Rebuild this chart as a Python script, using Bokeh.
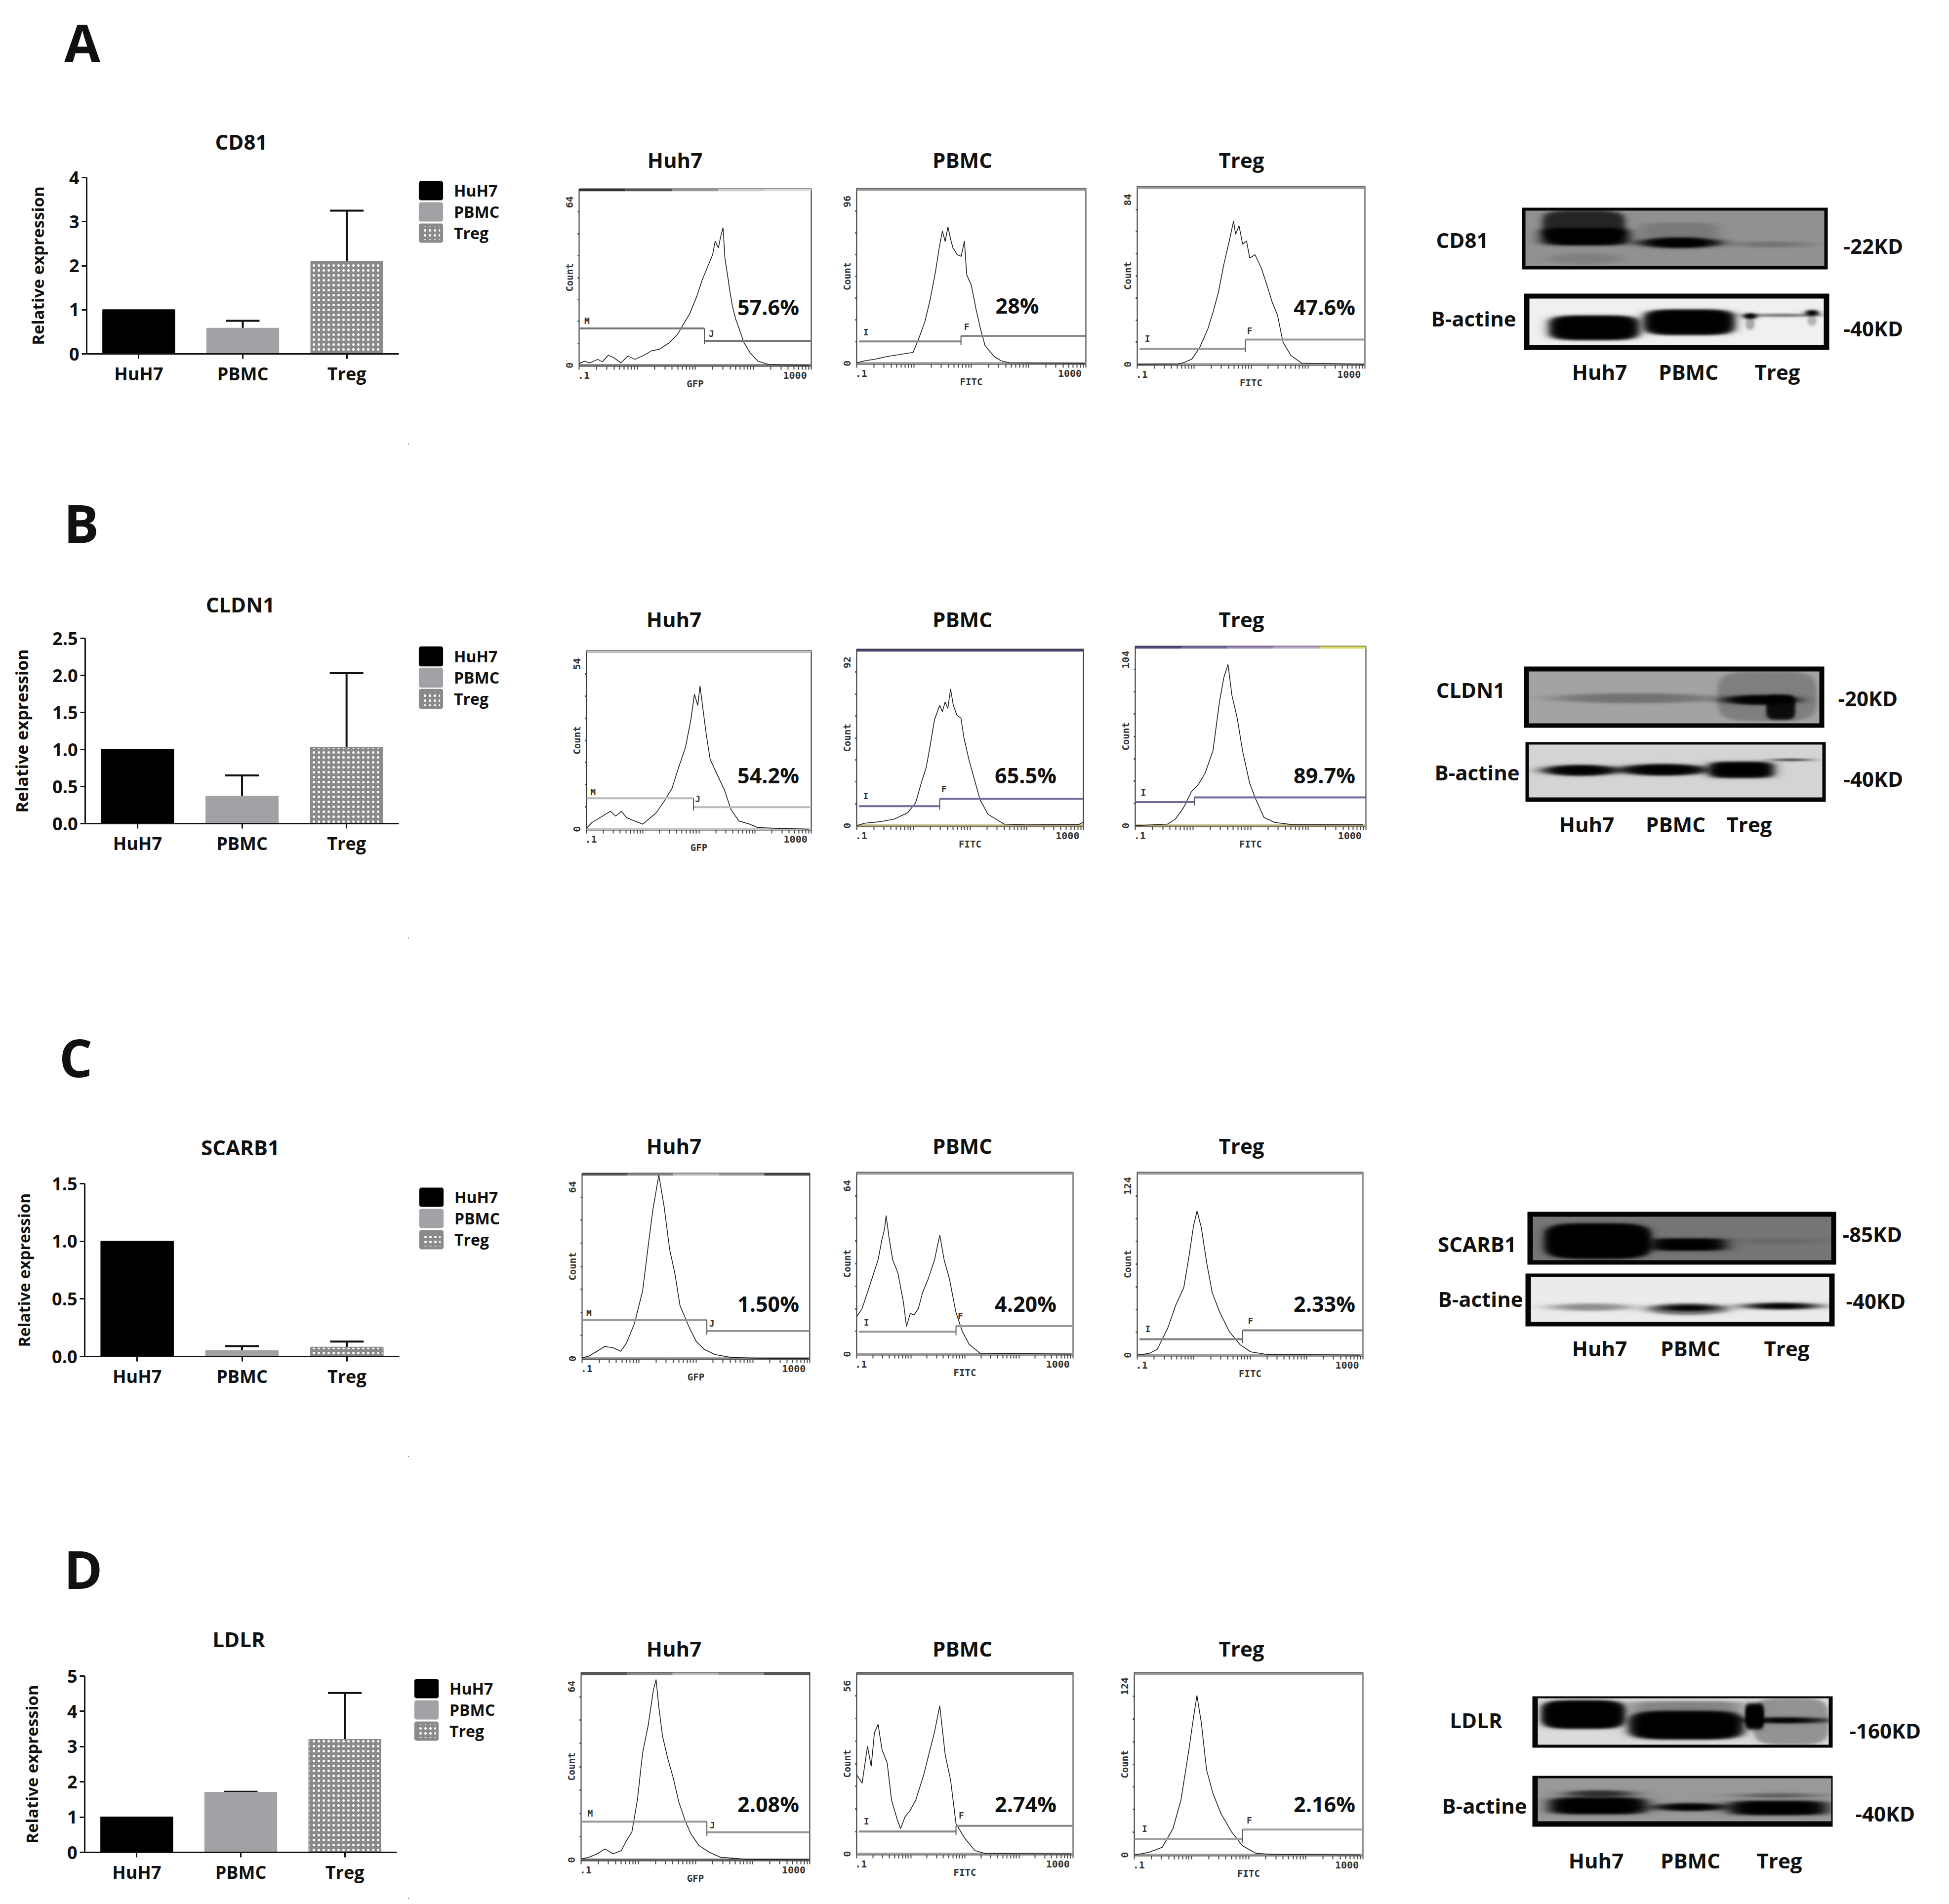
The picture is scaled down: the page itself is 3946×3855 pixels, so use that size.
import numpy as np
from bokeh.embed import file_html
from bokeh.resources import INLINE
from bokeh.layouts import row, column
from bokeh.plotting import figure
from bokeh.models import (FactorRange, Range1d, FixedTicker, Label, Legend, LegendItem, Whisker,
                          ColumnDataSource, TeeHead, LinearColorMapper, NumeralTickFormatter)
from bokeh.palettes import Greys256
from bokeh.core.properties import value

FONT = "Open Sans"
MONO = "DejaVu Sans Mono"

# ---------- bar charts ----------
CATEGORIES = ["HuH7", "PBMC", "Treg"]
CD81_MEAN = [1.0, 0.58, 2.1]
CD81_UPPER = [1.0, 0.75, 3.25]
CD81_TICKS = [0, 1, 2, 3, 4]
CLDN1_MEAN = [1.0, 0.37, 1.03]
CLDN1_UPPER = [1.0, 0.65, 2.03]
CLDN1_TICKS = [0, 0.5, 1.0, 1.5, 2.0, 2.5]
SCARB1_MEAN = [1.0, 0.05, 0.08]
SCARB1_UPPER = [1.0, 0.09, 0.13]
SCARB1_TICKS = [0, 0.5, 1.0, 1.5]
LDLR_MEAN = [1.0, 1.7, 3.2]
LDLR_UPPER = [1.0, 1.72, 4.52]
LDLR_TICKS = [0, 1, 2, 3, 4, 5]

# ---------- flow histograms: channel (% of log axis), events (% of full scale) ----------
A_HUH7_X = [0,2.3,4.6,8,10,12.6,15,18,21,24,28,31,34.5,39,42.5,45,47.6,50.6,53,55,57.5,58.6,60,61,62,62.8,63.7,65,66,67.4,69,71,73.6,77,81.6,87,99]
A_HUH7_Y = [1,2.4,1.4,3.4,2,5.8,4.3,1.4,5.3,3.4,5.8,8.2,9.1,13,17.8,23.6,29.3,39,48.6,55,63,70.7,66.9,73.6,78.4,61,53.4,41.8,34,26.5,20.7,13,7.2,2.4,.5,.3,0]
A_PBMC_X = [0,3.5,8,13,17.5,24.6,27,29.7,32,34.4,36,37.4,38.6,39.8,41,42,43.8,45.6,47,48,50,52,54,56,60,63,66.7,99.5]
A_PBMC_Y = [.3,1.5,2.4,3.9,4.8,6.3,14,23.7,36.3,52.8,66.4,76,70,78.5,71.2,66.4,62.5,61.5,70.3,50.9,45,31.5,19.9,10.2,3.9,1.5,.3,0]
A_TREG_X = [0,18,20.7,24,27.5,31,33.4,35.7,38,40.4,42.3,43.2,44.7,46.3,48,49.4,51.7,54.5,56.9,59.2,61.6,64,67.5,72.2,99.6]
A_TREG_Y = [0,.2,1.1,3,9.7,20,30,41,56.3,69.6,81,73.5,78.3,67.8,69.7,60,62,54.4,45,35.4,27.8,12.6,5,.7,0]
B_HUH7_X = [0,2.4,4.8,8.3,10.7,13,15.5,17.9,21.4,25,27.6,31,34.5,38,41,44,46.4,48,49.5,50.5,51.8,53.3,55,58.3,61.4,64.3,67.8,72.6,76.2,83.3,98.8]
B_HUH7_Y = [.5,3.7,5.5,8.3,10,7.3,10,6.4,4.6,2.8,5.5,9.2,15.6,22.9,34.8,45.9,61.4,76,69.7,80.7,67.8,53.2,39.4,30.3,22,11,4.6,2.8,.9,.5,0]
B_PBMC_X = [0,3.5,10.6,16.5,22.5,26,28.4,30.7,32.4,34.3,36.6,37.8,39,40.2,41.4,42.6,44.2,46,47.3,49.6,52,54.4,57.9,61.5,65,74.5,98,99.8]
B_PBMC_Y = [0,1.4,2.3,3.7,7.4,13,24,33.4,45.5,60.3,68.6,64.9,70.5,66.8,77.9,68.6,63,61.2,50,37.1,26,14.8,6.5,3.7,.9,.5,.7,1.9]
B_TREG_X = [0,14,17.4,20.9,24.4,27.2,30.2,33.7,36.5,38.4,40.2,41.9,44.2,46.5,49.6,52.3,55.8,60.5,68.6,98.8]
B_TREG_Y = [0,.9,3.7,10,19.2,22.8,29.2,42,69.4,83,90.4,73,60.3,42,23.7,14.6,4.6,1.8,.5,.5]
C_HUH7_X = [0,3,6.6,10,13.7,17,19.5,23,26.6,29,31,33.7,36,38.5,40.7,43,46.9,50.1,53.7,58.4,65.4,77,99.5]
C_HUH7_Y = [.4,1.3,4,6.6,5.8,4,8.4,19,36.8,60.7,80,99.6,82.7,58.9,46.5,28.8,17.3,9.3,4.9,2.2,.6,.2,0]
C_PBMC_X = [0,2.5,5,7.4,9.9,11.6,12.9,13.6,14.9,16.6,19,21.6,23,24.8,26.5,28.5,30.5,33,36,38.4,40.4,42.9,45.8,48.8,52,57,60.8,99]
C_PBMC_Y = [20.7,25.2,34.2,43,52.2,63,69.4,76.6,64.9,52.2,45,28.8,15.3,22.5,21.6,25.2,34.2,41.4,52.2,65.8,52.2,41.4,23.4,12.6,5.4,.5,.5,0]
C_TREG_X = [0,5.2,8.8,13.5,17,20.6,23,24.9,26.5,28.4,30.8,33.2,36.5,40.8,45.5,50.2,57.4,98.8]
C_TREG_Y = [0,.9,3.1,14.8,27.3,37,54.8,70.9,79.2,70,50.5,34.4,23.7,12.9,5.8,1.8,.4,0]
D_HUH7_X = [0,3.5,7,10.5,14,17.6,19.9,22.2,24.6,26.9,29.3,31.6,32.8,34,35.6,38,40.3,42.7,45.7,48,51.5,56.2,60.9,72.6,99.5]
D_HUH7_Y = [.5,1.4,3.2,5.9,3.2,5,10.4,14.9,32,57.4,71.9,91,96.8,81.9,66.5,53.9,44,31.2,20.4,14,7.7,4,1.4,.3,0]
D_PBMC_X = [0,2.5,5,6.7,8.2,9.9,11.7,14.1,16.1,18.6,20.3,22.3,24.8,27.3,31,33.5,35.9,38.4,40.9,43.4,45.9,49.6,54.6,59.5,99]
D_PBMC_Y = [43.9,39.2,59.7,48.5,67.2,71.8,57.8,50.4,29.9,19.6,14,20.5,24.3,29.9,43.9,56,67.2,82.1,55,41,16.8,9.3,1.9,.2,0]
D_TREG_X = [0,6.3,12.2,16.9,20.4,23.9,25.8,27.4,29.3,31.6,34.4,37.9,42.6,47.3,53.2,60.2,98.8]
D_TREG_Y = [0,1.4,4.2,14.4,30.2,58.1,75,87.9,73,46.9,33.9,22.8,12.6,5.1,.9,.3,0]

# ---------- page geometry ----------
ROW_TOPS = [0, 900, 1900, 2950]
ROW_BOTTOMS = [900, 1900, 2950, 3845]
COL_EDGES = [0, 1120, 1690, 2250, 2830, 3930]
BAR_HEADER_BOTTOMS = [322, 1258, 2354, 3350]
FLOW_HEADER_BOTTOMS = [358, 1292, 2362, 3376]
BAR_FIG_RIGHT = 826
TEXT_LIFT = 4


def header(x0, x1, y0, y1, texts):
    p = figure(width=x1 - x0, height=y1 - y0, min_border=0, x_range=Range1d(x0, x1), y_range=Range1d(-y1, -y0),
               x_axis_type=None, y_axis_type=None, toolbar_location=None, output_backend="svg",
               outline_line_color=None, frame_align=False)
    p.grid.visible = False
    for t, x, y, size in texts:
        p.text([x], [-y + TEXT_LIFT], text=[t], text_font=value(FONT), text_font_size=f"{size}px", text_font_style="bold",
               text_align="center", text_baseline="middle", text_color="#111111")
    return p


def base_fig(x0, x1, y0, y1, frame, x_range, y_range, **kw):
    L, R, T, B = frame
    return figure(width=x1 - x0, height=y1 - y0, min_border_left=L - x0, min_border_right=x1 - R,
                  min_border_top=T - y0, min_border_bottom=y1 - B, x_range=x_range, y_range=y_range,
                  toolbar_location=None, output_backend="svg", background_fill_color=None,
                  border_fill_color="white", frame_align=False, **kw)


def bar_panel(rownum, frame, title, title_xy, letter, letter_xy, mean, upper, ticks, fmt, lab_standoff, lab_size,
              swatch_left, legend_bottom, pitch):
    L, R, T, B = frame
    x0, x1 = COL_EDGES[0], COL_EDGES[1]
    top, split, bottom = ROW_TOPS[rownum], BAR_HEADER_BOTTOMS[rownum], ROW_BOTTOMS[rownum]
    p = base_fig(x0, BAR_FIG_RIGHT, split, bottom, frame, FactorRange(factors=CATEGORIES), Range1d(0, ticks[-1]))
    p.outline_line_color = None
    p.grid.visible = False
    colors = ["#000000", "#a1a1a6", "#8a8a8a"]
    styles = [{}, {}, dict(hatch_pattern="dot", hatch_color="white", hatch_scale=10, hatch_weight=5)]
    for c, m, col, st in zip(CATEGORIES, mean, colors, styles):
        p.vbar(x=[c], top=[m], width=0.69, bottom=0, fill_color=col, line_color=col, line_width=2, **st)
    src = ColumnDataSource(dict(x=CATEGORIES[1:], base=mean[1:], up=upper[1:]))
    p.add_layout(Whisker(source=src, base="x", lower="base", upper="up", line_width=4, line_color="#111111",
                         upper_head=TeeHead(size=68, line_width=4, line_color="#111111"), lower_head=None))
    for ax in (p.xaxis[0], p.yaxis[0]):
        ax.axis_line_width = 3
        ax.axis_line_color = "#111111"
        ax.major_tick_line_width = 3
        ax.major_tick_line_color = "#111111"
        ax.major_tick_in = 0
        ax.major_tick_out = 10
        ax.minor_tick_line_color = None
        ax.major_label_text_font = FONT
        ax.major_label_text_font_style = "bold"
        ax.major_label_text_font_size = "36px"
        ax.major_label_text_color = "#111111"
    p.xaxis[0].major_label_standoff = 5
    p.yaxis[0].ticker = FixedTicker(ticks=ticks)
    p.yaxis[0].formatter = NumeralTickFormatter(format=fmt)
    p.yaxis[0].major_label_standoff = 5
    p.yaxis[0].axis_label = "Relative expression"
    p.yaxis[0].axis_label_text_font = FONT
    p.yaxis[0].axis_label_text_font_style = "bold"
    p.yaxis[0].axis_label_text_font_size = f"{lab_size}px"
    p.yaxis[0].axis_label_text_color = "#111111"
    p.yaxis[0].axis_label_standoff = lab_standoff

    # the legend lives in its own strip to the right of the bars; its renderers sit far outside the strip's range
    q = figure(width=x1 - BAR_FIG_RIGHT, height=bottom - split, min_border=0, x_range=Range1d(0, 1), y_range=Range1d(0, 1),
               x_axis_type=None, y_axis_type=None, toolbar_location=None, output_backend="svg",
               outline_line_color=None, frame_align=False)
    q.grid.visible = False
    items = []
    for c, col, st in zip(CATEGORIES, colors, styles):
        r = q.vbar(x=[-1000], top=[-1000], width=0.5, bottom=-1001, fill_color=col, line_color=col, line_width=6, **st)
        items.append(LegendItem(label=c, renderers=[r]))
    leg = Legend(items=items, location=(swatch_left - 2 - BAR_FIG_RIGHT, bottom - legend_bottom - 1), orientation="vertical",
                 glyph_width=54, glyph_height=pitch, spacing=0, padding=0, margin=0, label_standoff=20,
                 label_height=pitch, label_text_font=FONT, label_text_font_style="bold", label_text_font_size="32px",
                 label_text_color="#111111", border_line_color=None, background_fill_color=None,
                 background_fill_alpha=0)
    q.add_layout(leg)
    head = header(x0, x1, top, split, [(title, title_xy[0], title_xy[1], 42), (letter, letter_xy[0], letter_xy[1], 106)])
    return column(head, row(p, q, spacing=0), spacing=0)


def flow_panel(rownum, col, frame, xs, ys, ymax, xlabel, title, title_x, title_y, pct, pct_x, pct_y,
               gate_split, gate_left, gate_right, gate_start, left_mark, right_mark, top_colors, gate_color, base_color):
    L, R, T, B = frame
    x0, x1 = COL_EDGES[col], COL_EDGES[col + 1]
    p = base_fig(x0, x1, FLOW_HEADER_BOTTOMS[rownum], ROW_BOTTOMS[rownum], frame, Range1d(0, 100), Range1d(-0.5, 100.5))
    p.grid.visible = False
    p.outline_line_color = "#333333"
    p.outline_line_width = 2
    n = len(top_colors)
    for i, c in enumerate(top_colors):
        p.line([100 * i / n, 100 * (i + 1) / n], [100, 100], line_color=c, line_width=6)
    p.line([0, 100], [0, 0], line_color=base_color, line_width=5)
    p.line(xs, ys, line_color="#1c1c1c", line_width=1.6)
    p.line([gate_start, gate_split], [gate_left, gate_left], line_color=gate_color, line_width=4)
    p.line([gate_split, 100], [gate_right, gate_right], line_color=gate_color, line_width=4)
    p.line([gate_split, gate_split], [min(gate_left, gate_right) - 2, max(gate_left, gate_right)], line_color="#555555", line_width=2)
    for mark in (left_mark, right_mark):
        if mark:
            p.text([mark[1]], [mark[2]], text=[mark[0]], text_font=value(MONO), text_font_size="18px",
                   text_font_style="bold", text_align="center", text_baseline="middle", text_color="#333333")
    xa, ya = p.xaxis[0], p.yaxis[0]
    decades = [0, 25, 50, 75, 100]
    minors = sorted(d + 25 * np.log10(k) for d in decades[:-1] for k in range(2, 10))
    xa.ticker = FixedTicker(ticks=[2, 93], minor_ticks=decades + minors)
    xa.major_label_overrides = {2: ".1", 93: "1000"}
    xa.major_tick_line_color = None
    xa.axis_line_color = None
    xa.minor_tick_line_color = "#444444"
    xa.minor_tick_line_width = 2
    xa.minor_tick_in = 0
    xa.minor_tick_out = 7
    xa.major_label_standoff = 4
    xa.axis_label = xlabel
    xa.axis_label_standoff = -4
    ya.ticker = FixedTicker(ticks=[0, 93], minor_ticks=[12.5, 25, 37.5, 50, 62.5, 75, 87.5])
    ya.major_label_overrides = {0: "0", 93: str(ymax)}
    ya.major_label_orientation = "vertical"
    ya.major_tick_line_color = None
    ya.axis_line_color = None
    ya.minor_tick_line_color = "#444444"
    ya.minor_tick_line_width = 3
    ya.minor_tick_in = 0
    ya.minor_tick_out = 3
    ya.major_label_standoff = 6
    ya.axis_label = "Count"
    ya.axis_label_standoff = -20
    for ax in (xa, ya):
        ax.major_label_text_font = MONO
        ax.major_label_text_font_size = "20px"
        ax.major_label_text_font_style = "bold"
        ax.major_label_text_color = "#333333"
        ax.axis_label_text_font = MONO
        ax.axis_label_text_font_size = "19px"
        ax.axis_label_text_font_style = "bold"
        ax.axis_label_text_color = "#333333"
    p.add_layout(Label(x=pct_x - L, y=B - pct_y + TEXT_LIFT, x_units="screen", y_units="screen", text=pct, text_font=FONT,
                       text_font_size="43px", text_font_style="bold", text_align="center", text_baseline="middle",
                       text_color="#111111"))
    return p


def membrane(p, outer, inner, bg, bands, border="#050505"):
    ol, or_, ot, ob = outer
    il, ir, it, ib = inner
    p.quad(left=[ol], right=[or_], top=[-ot], bottom=[-ob], fill_color=border, line_color=None)
    w, h = int(ir - il), int(ib - it)
    xx = (np.arange(w) + 0.5) / w * 100
    yy = (np.arange(h) + 0.5) / h * 100
    X, Y = np.meshgrid(xx, yy)
    keep = np.ones_like(X)
    for cx, hw, cy, hh, s in bands:
        dx = np.abs(X - cx) / hw
        dy = np.abs(Y - cy) / hh
        smallest = min(hw * w / 100, hh * h / 100)
        e = 4 if smallest > 12 else 2
        d = (dx ** e + dy ** e) ** (1 / e)
        k = max(smallest / 1.5, 3.0)
        mask = 1 / (1 + np.exp(np.clip((d - 1) * k, -30, 30)))
        keep *= 1 - s * mask
    img = np.flipud(bg * keep)
    p.image(image=[img], x=il, y=-ib, dw=ir - il, dh=ib - it,
            color_mapper=LinearColorMapper(palette=Greys256, low=0, high=1))


def blot_panel(rownum, blots, texts):
    x0, x1 = COL_EDGES[4], COL_EDGES[5]
    y0, y1 = ROW_TOPS[rownum], ROW_BOTTOMS[rownum]
    p = figure(width=x1 - x0, height=y1 - y0, min_border=0, x_range=Range1d(x0, x1), y_range=Range1d(-y1, -y0),
               x_axis_type=None, y_axis_type=None, toolbar_location=None, output_backend="svg",
               outline_line_color=None, frame_align=False)
    p.grid.visible = False
    for b in blots:
        membrane(p, *b)
    for t, x, y, align in texts:
        p.text([x], [-y + TEXT_LIFT], text=[t], text_font=value(FONT), text_font_size="42px", text_font_style="bold",
               text_align=align, text_baseline="middle", text_color="#111111")
    return p


# ---------- western blot bands: lane centre %, half width %, row centre %, half height %, strength ----------
CD81_BANDS = [(20, 14.7, 47, 16, 1), (19.5, 13.8, 26, 26, .75), (20, 12, 87, 10, .12), (51.6, 13.6, 58, 9.7, 1),
              (51.6, 13, 36, 14, .16), (82.3, 11.8, 61, 5.4, .2)]
ACTIN_A_BANDS = [(22, 15.5, 63, 26.8, 1), (54.3, 15.6, 51, 27.8, 1), (86, 11, 36, 3.5, .5), (75, 2.2, 38, 6, 1),
                 (96, 2.2, 31, 6, 1), (75, 1.5, 55, 12, .3), (96, 1.5, 48, 10, .25)]
CLDN1_BANDS = [(36.5, 26.4, 51.6, 9.5, .3), (82, 17, 48, 48, .22), (79.8, 12.8, 54.8, 9.5, 1), (86.7, 5, 69, 24, .9)]
ACTIN_B_BANDS = [(17.6, 12.9, 48.8, 10.3, 1), (45.9, 15.3, 47.8, 11, 1), (72.4, 11.2, 47.8, 15.6, 1), (89.4, 6, 29, 2.5, .6)]
SCARB1_BANDS = [(21.8, 18, 56, 41, 1), (52, 12.7, 64, 14.4, 1), (82.6, 13, 55.7, 5.7, .12)]
ACTIN_C_BANDS = [(20, 12.7, 67, 8, .4), (52.5, 13.3, 71.6, 13, .5), (53, 8.7, 69, 6.6, 1), (84, 12, 64.8, 7.3, 1)]
LDLR_BANDS = [(15.6, 14.5, 35, 31, 1), (51, 20, 58, 31, 1), (51, 20, 20, 14, .4), (87, 13, 50, 50, .33),
              (85, 13.6, 47.5, 6.4, 1), (74.5, 3.3, 39, 28, 1)]
ACTIN_D_BANDS = [(20.5, 16.7, 64, 20, 1), (21, 11, 36, 8, .7), (52, 12.5, 67, 9, 1), (81.9, 16.7, 69, 17, 1), (82, 12, 40, 5, .4)]

GRAY_TOP = ["#9a9a9a"]
BASE = "#9a9a9a"
BARS = [
    dict(frame=(175, 807, 359, 716), title="CD81", title_xy=(488, 290), letter="A", letter_xy=(166, 88),
         mean=CD81_MEAN, upper=CD81_UPPER, ticks=CD81_TICKS, fmt="0", lab_standoff=38, lab_size=33,
         swatch_left=847, legend_bottom=492, pitch=41),
    dict(frame=(172, 807, 1292, 1667), title="CLDN1", title_xy=(486, 1227), letter="B", letter_xy=(164, 1061),
         mean=CLDN1_MEAN, upper=CLDN1_UPPER, ticks=CLDN1_TICKS, fmt="0.0", lab_standoff=36, lab_size=34,
         swatch_left=847, legend_bottom=1435, pitch=43),
    dict(frame=(171, 808, 2396, 2746), title="SCARB1", title_xy=(486, 2326), letter="C", letter_xy=(153, 2143),
         mean=SCARB1_MEAN, upper=SCARB1_UPPER, ticks=SCARB1_TICKS, fmt="0.0", lab_standoff=32, lab_size=32,
         swatch_left=848, legend_bottom=2530, pitch=41),
    dict(frame=(171, 803, 3393, 3750), title="LDLR", title_xy=(483, 3322), letter="D", letter_xy=(168, 3179),
         mean=LDLR_MEAN, upper=LDLR_UPPER, ticks=LDLR_TICKS, fmt="0", lab_standoff=46, lab_size=33,
         swatch_left=838, legend_bottom=3525, pitch=41),
]

FLOWS = [
    [dict(frame=(1172, 1642, 382, 741), xs=A_HUH7_X, ys=A_HUH7_Y, ymax=64, xlabel="GFP", title="Huh7", title_x=1366, title_y=327, pct="57.6%", pct_x=1555, pct_y=625,
          gate_split=54, gate_left=21, gate_right=14, gate_start=0, left_mark=("M", 3.4, 25.5), right_mark=("J", 57, 18),
          top_colors=["#333333", "#555555", "#999999", "#cccccc", "#dddddd"], gate_color="#777777", base_color="#777777"),
     dict(frame=(1734, 2198, 381, 737), xs=A_PBMC_X, ys=A_PBMC_Y, ymax=96, xlabel="FITC", title="PBMC", title_x=1948, title_y=327, pct="28%", pct_x=2059, pct_y=622,
          gate_split=45.5, gate_left=12.6, gate_right=15.8, gate_start=1, left_mark=("I", 4, 18), right_mark=("F", 48, 21),
          top_colors=GRAY_TOP, gate_color="#888888", base_color=BASE),
     dict(frame=(2302, 2763, 377, 739), xs=A_TREG_X, ys=A_TREG_Y, ymax=84, xlabel="FITC", title="Treg", title_x=2513, title_y=327, pct="47.6%", pct_x=2681, pct_y=625,
          gate_split=47.5, gate_left=8.8, gate_right=14, gate_start=1, left_mark=("I", 4.5, 14.5), right_mark=("F", 49.4, 19),
          top_colors=GRAY_TOP, gate_color="#999999", base_color=BASE)],
    [dict(frame=(1187, 1642, 1317, 1680), xs=B_HUH7_X, ys=B_HUH7_Y, ymax=54, xlabel="GFP", title="Huh7", title_x=1364, title_y=1257, pct="54.2%", pct_x=1555, pct_y=1573,
          gate_split=47.6, gate_left=17.4, gate_right=12.4, gate_start=0, left_mark=("M", 2.9, 21), right_mark=("J", 49.5, 17),
          top_colors=["#c4c4c4"], gate_color="#bbbbbb", base_color="#c4c4c4"),
     dict(frame=(1734, 2193, 1314, 1673), xs=B_PBMC_X, ys=B_PBMC_Y, ymax=92, xlabel="FITC", title="PBMC", title_x=1948, title_y=1257, pct="65.5%", pct_x=2076, pct_y=1573,
          gate_split=36.6, gate_left=11.1, gate_right=15.3, gate_start=1, left_mark=("I", 4, 17), right_mark=("F", 38.5, 21),
          top_colors=["#44446a"], gate_color="#6d6d9c", base_color="#b5b07a"),
     dict(frame=(2298, 2765, 1308, 1673), xs=B_TREG_X, ys=B_TREG_Y, ymax=104, xlabel="FITC", title="Treg", title_x=2513, title_y=1257, pct="89.7%", pct_x=2681, pct_y=1573,
          gate_split=25.6, gate_left=13.2, gate_right=15.8, gate_start=0, left_mark=("I", 3.5, 18.7), right_mark=None,
          top_colors=["#4a4a7a", "#6d6d9c", "#9a86b8", "#b9a9c9", "#d9d860"], gate_color="#6d6d9c", base_color="#b5b07a")],
    [dict(frame=(1178, 1639, 2375, 2752), xs=C_HUH7_X, ys=C_HUH7_Y, ymax=64, xlabel="GFP", title="Huh7", title_x=1364, title_y=2323, pct="1.50%", pct_x=1555, pct_y=2643,
          gate_split=54.8, gate_left=20.8, gate_right=14.9, gate_start=0, left_mark=("M", 3, 24.8), right_mark=("J", 57, 19),
          top_colors=["#555555", "#888888", "#bbbbbb", "#999999", "#444444"], gate_color="#999999", base_color="#888888"),
     dict(frame=(1734, 2172, 2373, 2743), xs=C_PBMC_X, ys=C_PBMC_Y, ymax=64, xlabel="FITC", title="PBMC", title_x=1948, title_y=2323, pct="4.20%", pct_x=2076, pct_y=2643,
          gate_split=45.9, gate_left=12.4, gate_right=15.5, gate_start=1, left_mark=("I", 4.5, 17.6), right_mark=("F", 47.9, 21),
          top_colors=GRAY_TOP, gate_color="#999999", base_color=BASE),
     dict(frame=(2302, 2759, 2373, 2745), xs=C_TREG_X, ys=C_TREG_Y, ymax=124, xlabel="FITC", title="Treg", title_x=2513, title_y=2323, pct="2.33%", pct_x=2681, pct_y=2643,
          gate_split=46.7, gate_left=8.7, gate_right=13.6, gate_start=1, left_mark=("I", 4.7, 14.3), right_mark=("F", 50.2, 18.8),
          top_colors=GRAY_TOP, gate_color="#808080", base_color=BASE)],
    [dict(frame=(1176, 1639, 3386, 3767), xs=D_HUH7_X, ys=D_HUH7_Y, ymax=64, xlabel="GFP", title="Huh7", title_x=1364, title_y=3341, pct="2.08%", pct_x=1555, pct_y=3656,
          gate_split=55, gate_left=20.5, gate_right=14.8, gate_start=0, left_mark=("M", 4, 25), right_mark=("J", 57.4, 18.6),
          top_colors=["#555555", "#888888", "#bbbbbb", "#999999", "#555555"], gate_color="#999999", base_color="#666666"),
     dict(frame=(1734, 2172, 3386, 3755), xs=D_PBMC_X, ys=D_PBMC_Y, ymax=56, xlabel="FITC", title="PBMC", title_x=1948, title_y=3341, pct="2.74%", pct_x=2076, pct_y=3656,
          gate_split=45.9, gate_left=12.4, gate_right=15.6, gate_start=1, left_mark=("I", 4.5, 18.2), right_mark=("F", 48.4, 21.5),
          top_colors=["#777777"], gate_color="#888888", base_color=BASE),
     dict(frame=(2296, 2759, 3386, 3757), xs=D_TREG_X, ys=D_TREG_Y, ymax=124, xlabel="FITC", title="Treg", title_x=2513, title_y=3341, pct="2.16%", pct_x=2681, pct_y=3656,
          gate_split=47.3, gate_left=8.8, gate_right=14, gate_start=0, left_mark=("I", 4.5, 14.4), right_mark=("F", 50.3, 19),
          top_colors=GRAY_TOP, gate_color="#a0a0a0", base_color=BASE)],
]

BLOTS = [
    ([((3081, 3700, 420, 545), (3088, 3693, 426, 538), .57, CD81_BANDS),
      ((3085, 3703, 594, 708), (3096, 3692, 604, 698), .94, ACTIN_A_BANDS)],
     [("CD81", 2960, 489, "center"), ("B-actine", 2983, 648, "center"), ("-22KD", 3732, 501, "left"), ("-40KD", 3732, 668, "left"),
      ("Huh7", 3238, 756, "center"), ("PBMC", 3418, 756, "center"), ("Treg", 3598, 756, "center")]),
    ([((3085, 3693, 1349, 1473), (3095, 3683, 1359, 1464), .64, CLDN1_BANDS),
      ((3088, 3696, 1502, 1623), (3095, 3689, 1507, 1614), .83, ACTIN_B_BANDS)],
     [("CLDN1", 2977, 1400, "center"), ("B-actine", 2990, 1567, "center"), ("-20KD", 3721, 1417, "left"), ("-40KD", 3732, 1580, "left"),
      ("Huh7", 3212, 1672, "center"), ("PBMC", 3392, 1672, "center"), ("Treg", 3541, 1672, "center")]),
    ([((3092, 3717, 2453, 2560), (3103, 3707, 2463, 2551), .46, SCARB1_BANDS),
      ((3088, 3714, 2578, 2685), (3099, 3703, 2585, 2676), .92, ACTIN_C_BANDS)],
     [("SCARB1", 2990, 2522, "center"), ("B-actine", 2997, 2633, "center"), ("-85KD", 3730, 2502, "left"), ("-40KD", 3737, 2637, "left"),
      ("Huh7", 3238, 2733, "center"), ("PBMC", 3422, 2733, "center"), ("Treg", 3617, 2733, "center")]),
    ([((3102, 3710, 3434, 3538), (3113, 3702, 3438, 3532), .86, LDLR_BANDS),
      ((3102, 3710, 3595, 3698), (3113, 3707, 3600, 3687), .60, ACTIN_D_BANDS)],
     [("LDLR", 2988, 3486, "center"), ("B-actine", 3005, 3659, "center"), ("-160KD", 3744, 3507, "left"), ("-40KD", 3756, 3675, "left"),
      ("Huh7", 3231, 3770, "center"), ("PBMC", 3422, 3770, "center"), ("Treg", 3602, 3770, "center")]),
]

rows = []
for i in range(4):
    bar = bar_panel(i, **BARS[i])
    flows = [flow_panel(i, c + 1, **fl) for c, fl in enumerate(FLOWS[i])]
    flow_head = header(COL_EDGES[1], COL_EDGES[4], ROW_TOPS[i], FLOW_HEADER_BOTTOMS[i],
                       [(fl["title"], fl["title_x"], fl["title_y"], 42) for fl in FLOWS[i]])
    mid = column(flow_head, row(*flows, spacing=0), spacing=0)
    rows.append(row(bar, mid, blot_panel(i, *BLOTS[i]), spacing=0))

page = column(*rows, spacing=0)
open("out.html", "w").write(file_html(page, INLINE))
